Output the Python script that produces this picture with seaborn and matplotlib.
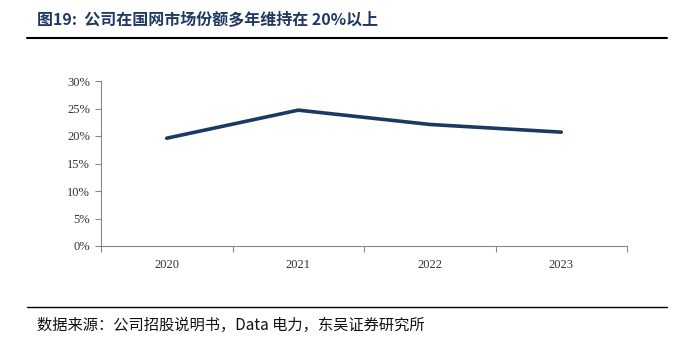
import matplotlib
matplotlib.use("Agg")
import matplotlib.pyplot as plt
import seaborn as sns
import pandas as pd
import numpy as np
from matplotlib.ticker import FixedLocator

years = ["2020", "2021", "2022", "2023"]
share = [19.6, 24.7, 22.1, 20.7]
yticks = [0, 5, 10, 15, 20, 25, 30]
ytick_labels = ["0%", "5%", "10%", "15%", "20%", "25%", "30%"]

title = "图19:  公司在国网市场份额多年维持在 20%以上"
source = "数据来源：公司招股说明书，Data 电力，东吴证券研究所"

sns.set_theme(style="white")
plt.rcParams['font.family'] = ['Noto Sans CJK SC', 'DejaVu Sans']

df = pd.DataFrame({"year": years, "share": share, "x": np.arange(len(years))})

fig = plt.figure(figsize=(6.8, 3.46), dpi=100)
ax = fig.add_axes([101/680, 1-246/346, (627-101)/680, (246-81)/346])

sns.lineplot(data=df, x="x", y="share", ax=ax, color="#1b3a63", linewidth=2.6, legend=False)

ax.set_xlim(-0.5, len(years) - 0.5)
ax.set_ylim(0, 30)
ax.set_yticks(yticks)
ax.set_yticklabels(ytick_labels, family="Liberation Serif", fontsize=9, color="#333333")
ax.set_xticks(np.arange(len(years)))
ax.set_xticklabels(years, family="Liberation Serif", fontsize=9, color="#333333")
ax.xaxis.set_minor_locator(FixedLocator(np.arange(len(years) + 1) - 0.5))
ax.tick_params(axis="x", which="major", length=0, pad=9)
ax.tick_params(axis="x", which="minor", length=4, color="#888888", width=0.8, bottom=True)
ax.tick_params(axis="y", which="major", length=4, color="#888888", width=0.8, left=True, pad=4)
ax.set_xlabel("")
ax.set_ylabel("")
for s in ["top", "right"]:
    ax.spines[s].set_visible(False)
for s in ["left", "bottom"]:
    ax.spines[s].set_color("#888888")
    ax.spines[s].set_linewidth(0.8)
ax.grid(False)

fig.text(37/680, 1-20/346, title, fontsize=11.5, fontweight="bold", color="#1f3864",
         va="center", ha="left", family=['Noto Sans CJK SC', 'DejaVu Sans'])
fig.add_artist(plt.Line2D([27/680, 667/680], [1-38/346, 1-38/346], color="black", linewidth=1.5))
fig.add_artist(plt.Line2D([27/680, 667/680], [1-307/346, 1-307/346], color="black", linewidth=1.0))
fig.text(37/680, 1-325/346, source, fontsize=11, color="#111111", va="center", ha="left",
         family=['Noto Sans CJK SC', 'DejaVu Sans'])

fig.savefig("out.png", dpi=100)
